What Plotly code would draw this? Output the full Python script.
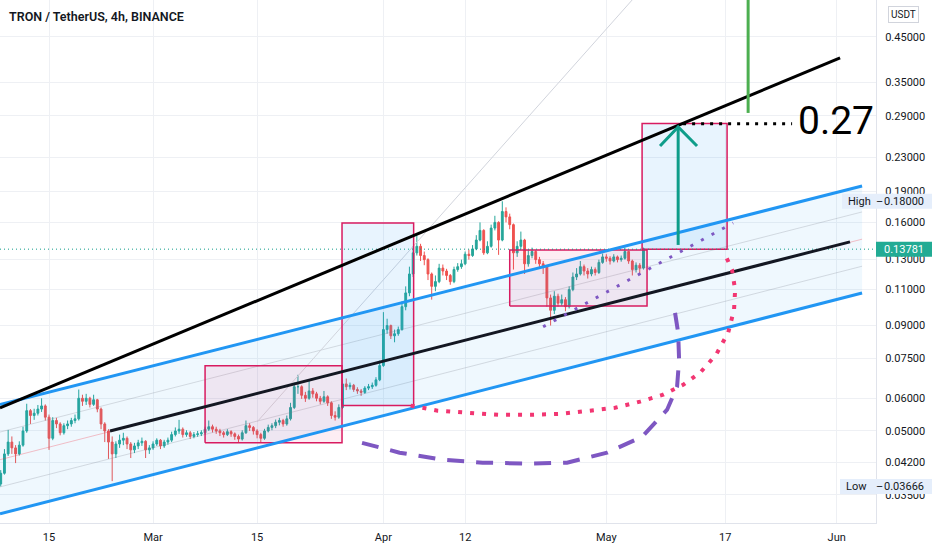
import numpy as np
import pandas as pd
import plotly.graph_objects as go

first_open = 0.0372
closes = [
    0.0395, 0.0440, 0.0470, 0.0455, 0.0440, 0.0462, 0.0500, 0.0560, 0.0545, 0.0552,
    0.0565, 0.0575, 0.0540, 0.0480, 0.0530, 0.0520, 0.0495, 0.0515, 0.0520, 0.0530,
    0.0535, 0.0600, 0.0590, 0.0600, 0.0580, 0.0595, 0.0565, 0.0520, 0.0500, 0.0470,
    0.0440, 0.0465, 0.0475, 0.0480, 0.0465, 0.0450, 0.0460, 0.0468, 0.0472, 0.0450,
    0.0455, 0.0465, 0.0475, 0.0460, 0.0470, 0.0475, 0.0490, 0.0500, 0.0505, 0.0490,
    0.0495, 0.0485, 0.0490, 0.0492, 0.0495, 0.0505, 0.0512, 0.0505, 0.0500, 0.0495,
    0.0490, 0.0498, 0.0492, 0.0485, 0.0478, 0.0495, 0.0515, 0.0510, 0.0500, 0.0490,
    0.0480, 0.0500, 0.0510, 0.0515, 0.0525, 0.0530, 0.0520, 0.0535, 0.0570, 0.0640,
    0.0640, 0.0610, 0.0600, 0.0625, 0.0615, 0.0600, 0.0590, 0.0605, 0.0585, 0.0545,
    0.0540, 0.0570, 0.0650, 0.0640, 0.0645, 0.0630, 0.0625, 0.0620, 0.0635, 0.0640,
    0.0645, 0.0665, 0.0720, 0.0880, 0.0900, 0.0850, 0.0860, 0.0880, 0.1000, 0.1080,
    0.1200, 0.1350, 0.1400, 0.1330, 0.1300, 0.1200, 0.1120, 0.1150, 0.1240, 0.1220,
    0.1190, 0.1150, 0.1230, 0.1250, 0.1270, 0.1340, 0.1330, 0.1380, 0.1450, 0.1530,
    0.1350, 0.1400, 0.1550, 0.1600, 0.1450, 0.1700, 0.1650, 0.1580, 0.1350, 0.1400,
    0.1450, 0.1270, 0.1330, 0.1360, 0.1300, 0.1270, 0.1250, 0.1050, 0.0980, 0.1060,
    0.1020, 0.1040, 0.1000, 0.1100, 0.1180, 0.1200, 0.1250, 0.1220, 0.1200, 0.1230,
    0.1210, 0.1280, 0.1320, 0.1310, 0.1290, 0.1320, 0.1300, 0.1310, 0.1360, 0.1290,
    0.1230, 0.1260, 0.1240, 0.13781,
]
highs = [
    0.0402, 0.0452, 0.0503, 0.0485, 0.0462, 0.0472, 0.0512, 0.0582, 0.0565, 0.0566,
    0.0578, 0.0600, 0.0580, 0.0548, 0.0540, 0.0538, 0.0525, 0.0522, 0.0530, 0.0538,
    0.0548, 0.0630, 0.0612, 0.0615, 0.0605, 0.0612, 0.0598, 0.0570, 0.0525, 0.0505,
    0.0485, 0.0472, 0.0490, 0.0495, 0.0485, 0.0470, 0.0468, 0.0476, 0.0482, 0.0475,
    0.0462, 0.0472, 0.0480, 0.0478, 0.0476, 0.0482, 0.0498, 0.0510, 0.0532, 0.0510,
    0.0502, 0.0500, 0.0497, 0.0500, 0.0502, 0.0512, 0.0530, 0.0518, 0.0512, 0.0506,
    0.0500, 0.0505, 0.0502, 0.0496, 0.0490, 0.0502, 0.0530, 0.0522, 0.0514, 0.0505,
    0.0495, 0.0506, 0.0518, 0.0522, 0.0533, 0.0538, 0.0535, 0.0545, 0.0585, 0.0655,
    0.0684, 0.0645, 0.0622, 0.0665, 0.0635, 0.0622, 0.0608, 0.0625, 0.0610, 0.0590,
    0.0558, 0.0580, 0.0665, 0.0670, 0.0655, 0.0650, 0.0638, 0.0632, 0.0642, 0.0650,
    0.0655, 0.0675, 0.0740, 0.0970, 0.0935, 0.0905, 0.0880, 0.0895, 0.1030, 0.1120,
    0.1250, 0.1400, 0.1490, 0.1420, 0.1360, 0.1310, 0.1210, 0.1190, 0.1270, 0.1265,
    0.1235, 0.1200, 0.1250, 0.1275, 0.1300, 0.1360, 0.1375, 0.1410, 0.1490, 0.1600,
    0.1540, 0.1440, 0.1580, 0.1660, 0.1610, 0.1800, 0.1740, 0.1680, 0.1590, 0.1440,
    0.1520, 0.1460, 0.1370, 0.1390, 0.1370, 0.1320, 0.1290, 0.1260, 0.1070, 0.1090,
    0.1075, 0.1070, 0.1055, 0.1120, 0.1210, 0.1240, 0.1290, 0.1265, 0.1240, 0.1250,
    0.1245, 0.1300, 0.1345, 0.1340, 0.1325, 0.1340, 0.1330, 0.1330, 0.1390, 0.1365,
    0.1300, 0.1280, 0.1275, 0.1390,
]
lows = [
    0.0367, 0.0392, 0.0435, 0.0440, 0.0418, 0.0436, 0.0458, 0.0495, 0.0520, 0.0532,
    0.0545, 0.0556, 0.0530, 0.0450, 0.0475, 0.0508, 0.0488, 0.0490, 0.0505, 0.0512,
    0.0522, 0.0530, 0.0575, 0.0578, 0.0570, 0.0575, 0.0555, 0.0505, 0.0470, 0.0428,
    0.0378, 0.0430, 0.0455, 0.0462, 0.0452, 0.0430, 0.0442, 0.0452, 0.0460, 0.0430,
    0.0440, 0.0450, 0.0460, 0.0452, 0.0455, 0.0463, 0.0470, 0.0485, 0.0492, 0.0482,
    0.0484, 0.0478, 0.0480, 0.0484, 0.0486, 0.0490, 0.0500, 0.0496, 0.0492, 0.0486,
    0.0482, 0.0486, 0.0484, 0.0476, 0.0470, 0.0474, 0.0492, 0.0500, 0.0490, 0.0480,
    0.0470, 0.0476, 0.0496, 0.0502, 0.0508, 0.0516, 0.0512, 0.0515, 0.0530, 0.0565,
    0.0615, 0.0598, 0.0588, 0.0595, 0.0602, 0.0590, 0.0580, 0.0585, 0.0575, 0.0535,
    0.0530, 0.0535, 0.0565, 0.0628, 0.0630, 0.0622, 0.0615, 0.0608, 0.0615, 0.0628,
    0.0632, 0.0640, 0.0660, 0.0715, 0.0860, 0.0835, 0.0820, 0.0850, 0.0875, 0.0980,
    0.1060, 0.1180, 0.1330, 0.1290, 0.1260, 0.1160, 0.1040, 0.1090, 0.1140, 0.1190,
    0.1160, 0.1130, 0.1140, 0.1215, 0.1235, 0.1260, 0.1300, 0.1320, 0.1370, 0.1440,
    0.1335, 0.1340, 0.1390, 0.1530, 0.1335, 0.1440, 0.1600, 0.1540, 0.1230, 0.1320,
    0.1380, 0.1200, 0.1250, 0.1310, 0.1270, 0.1240, 0.1200, 0.1000, 0.0900, 0.0960,
    0.1000, 0.1005, 0.0975, 0.0990, 0.1090, 0.1160, 0.1190, 0.1190, 0.1170, 0.1185,
    0.1190, 0.1200, 0.1270, 0.1285, 0.1265, 0.1280, 0.1280, 0.1285, 0.1300, 0.1270,
    0.1190, 0.1210, 0.1200, 0.1230,
]
times = pd.date_range("2021-02-08 12:00", periods=len(closes), freq="12h")
opens = [first_open] + closes[:-1]
last_price = 0.13781
high_price = 0.18
low_price = 0.03666

# axis ticks
price_ticks = [0.035, 0.042, 0.05, 0.06, 0.075, 0.09, 0.11, 0.13, 0.16, 0.19, 0.23, 0.29, 0.35, 0.45, 0.55]
date_ticks = ["2021-02-15", "2021-03-01", "2021-03-15", "2021-04-01", "2021-04-12",
              "2021-05-01", "2021-05-17", "2021-06-01"]
date_labels = ["15", "Mar", "15", "Apr", "12", "May", "17", "Jun"]
x_range = ["2021-02-08 09:40", "2021-06-06 07:00"]
y_range = [0.02993, 0.553]

# drawings, as (date, price) points
chan_x = ["2021-02-08 09:40", "2021-06-04 10:00"]
chan_top = [0.0579, 0.1960]
chan_bot = [0.0315, 0.1079]
chan_mid = [0.0426, 0.1457]
chan_q1 = [0.0497, 0.1696]
chan_q3 = [0.0366, 0.1253]
upper_x = ["2021-02-08 09:40", "2021-06-01 11:00"]
upper_y = [0.0569, 0.4003]
mid_x = ["2021-02-23 05:00", "2021-06-02 19:00"]
mid_y = [0.0500, 0.1435]
steep_x = ["2021-03-15 00:00", "2021-05-04 11:20"]
steep_y = [0.0526, 0.553]

box_x0 = ["2021-03-08 00:00", "2021-03-26 10:20", "2021-04-18 00:00", "2021-05-05 19:30"]
box_x1 = ["2021-03-26 10:20", "2021-04-05 01:40", "2021-05-06 11:30", "2021-05-17 06:00"]
box_lo = [0.0468, 0.0576, 0.1004, 0.1378]
box_hi = [0.0719, 0.1595, 0.1372, 0.2776]
box_fill = ["rgba(233,30,99,0.08)", "rgba(33,150,243,0.10)",
            "rgba(233,30,99,0.08)", "rgba(33,150,243,0.10)"]

purple_dot_x = ["2021-04-22 11:45", "2021-05-18 01:30"]
purple_dot_y = [0.0894, 0.1595]

red_curve_x = ["2021-04-04 16:00", "2021-04-08 07:00", "2021-04-12 16:00", "2021-04-16 17:00",
               "2021-04-20 18:00", "2021-04-24 19:00", "2021-04-28 19:30", "2021-05-02 04:00",
               "2021-05-05 13:00", "2021-05-08 15:30", "2021-05-11 08:00", "2021-05-13 15:00",
               "2021-05-15 18:30", "2021-05-17 09:30", "2021-05-18 04:30", "2021-05-18 08:00",
               "2021-05-17 22:00", "2021-05-17 00:00"]
red_curve_y = [0.0576, 0.0560, 0.0553, 0.0547, 0.0547, 0.0550, 0.0560, 0.0569, 0.0589,
               0.0612, 0.0647, 0.0692, 0.0765, 0.0865, 0.0983, 0.1098, 0.1228, 0.1335]

purple_curve_x = ["2021-03-29 03:00", "2021-04-03 04:20", "2021-04-08 23:20", "2021-04-14 08:30",
                  "2021-04-20 18:00", "2021-04-25 17:00", "2021-05-01 02:30", "2021-05-05 19:30",
                  "2021-05-09 04:20", "2021-05-10 12:30", "2021-05-10 19:00", "2021-05-10 16:00",
                  "2021-05-10 06:00"]
purple_curve_y = [0.0468, 0.0443, 0.0426, 0.0419, 0.0417, 0.0419, 0.0443, 0.0484,
                  0.0563, 0.0640, 0.0743, 0.0865, 0.0966]

target_x = ["2021-05-11 08:00", "2021-05-26 00:00"]
target_y = [0.2775, 0.2775]
arrow_x = ["2021-05-10 16:00", "2021-05-10 16:00"]
arrow_y = [0.1411, 0.2724]
head_x = ["2021-05-08 05:30", "2021-05-10 16:00", "2021-05-13 05:00"]
head_y = [0.2450, 0.2724, 0.2450]
green_x = ["2021-05-20 02:00", "2021-05-20 02:00"]
green_y = [0.2946, 0.70]

BLUE = "#2196f3"
PINK = "#d81b60"
PURPLE = "#7e57c2"
TEAL = "#0f9d8a"

fig = go.Figure()

def line(x, y, color, width, dash="solid"):
    fig.add_trace(go.Scatter(x=x, y=y, mode="lines", line=dict(color=color, width=width, dash=dash),
                             hoverinfo="skip", showlegend=False))

# channel fill
fig.add_trace(go.Scatter(x=[chan_x[0], chan_x[1], chan_x[1], chan_x[0], chan_x[0]],
                         y=[chan_top[0], chan_top[1], chan_bot[1], chan_bot[0], chan_top[0]],
                         mode="lines", fill="toself", fillcolor="rgba(33,150,243,0.07)",
                         line=dict(width=0), hoverinfo="skip", showlegend=False))
line(chan_x, chan_q1, "rgba(120,123,134,0.25)", 1)
line(chan_x, chan_mid, "rgba(242,54,69,0.3)", 1)
line(chan_x, chan_q3, "rgba(120,123,134,0.25)", 1)
line(steep_x, steep_y, "#d1d4dc", 1)

# boxes
for a, b, lo, hi, fc in zip(box_x0, box_x1, box_lo, box_hi, box_fill):
    fig.add_trace(go.Scatter(x=[a, b, b, a, a], y=[lo, lo, hi, hi, lo], mode="lines",
                             fill="toself", fillcolor=fc, line=dict(color=PINK, width=1.5),
                             hoverinfo="skip", showlegend=False))

# current price line
line(x_range, [last_price, last_price], TEAL, 1, "1px,3px")

fig.add_trace(go.Candlestick(
    x=times, open=opens, high=highs, low=lows, close=closes,
    increasing=dict(line=dict(color="#26a69a", width=1), fillcolor="#26a69a"),
    decreasing=dict(line=dict(color="#ef5350", width=1), fillcolor="#ef5350"),
    whiskerwidth=0, showlegend=False, hoverinfo="skip"))

line(chan_x, chan_top, BLUE, 3)
line(chan_x, chan_bot, BLUE, 3)
line(upper_x, upper_y, "#000000", 3)
line(mid_x, mid_y, "#131722", 3)
line(purple_dot_x, purple_dot_y, PURPLE, 3, "3px,9px")
line(red_curve_x, red_curve_y, "#f23672", 4, "4px,8px")
line(purple_curve_x, purple_curve_y, PURPLE, 4, "17px,12px")
line(target_x, target_y, "#000000", 3, "3px,6px")
line(arrow_x, arrow_y, TEAL, 3)
line(head_x, head_y, TEAL, 3)
line(green_x, green_y, "#4caf50", 3)

annotations = [
    dict(text="TRON / TetherUS, 4h, BINANCE", xref="paper", yref="paper", x=7 / 876, y=0.9694,
         xanchor="left", yanchor="middle", showarrow=False,
         font=dict(size=12.5, color="#131722", family="Roboto", weight=600)),
    dict(text="0.27", xref="x", yref="y", x="2021-05-31 22:00", y=np.log10(0.2817),
         xanchor="center", yanchor="middle", showarrow=False,
         font=dict(size=39, color="#000000", family="Roboto")),
    dict(text="USDT", xref="paper", yref="paper", x=903 / 876, y=(523 - 15) / 523,
         xanchor="center", yanchor="middle", showarrow=False, bgcolor="white",
         bordercolor="#d1d4dc", borderwidth=1, borderpad=2,
         font=dict(size=10, color="#131722", family="Roboto")),
]

shapes = []
# high / low / last price labels
for price, name, bg, fg, x_start in [(high_price, "High", "#e5eefb", "#131722", 842),
                                     (low_price, "Low", "#e5eefb", "#131722", 840),
                                     (last_price, "", "#22ab94", "#ffffff", 876)]:
    yc = 37 + 179.3 * np.log(0.45 / price)
    shapes.append(dict(type="rect", xref="paper", yref="paper", x0=x_start / 876, x1=932 / 876,
                       y0=(523 - yc - 7.5) / 523, y1=(523 - yc + 7.5) / 523,
                       fillcolor=bg, line=dict(width=0), layer="above"))
    annotations.append(dict(text=f"{price:.5f}", xref="paper", yref="y", x=882 / 876,
                            y=np.log10(price), xanchor="left", yanchor="middle", showarrow=False,
                            font=dict(size=11, color=fg, family="Roboto")))
    if name:
        annotations.append(dict(text=name, xref="paper", yref="y", x=(x_start + 4) / 876,
                                y=np.log10(price), xanchor="left", yanchor="middle",
                                showarrow=False, font=dict(size=11, color="#131722", family="Roboto")))
        annotations.append(dict(text="–", xref="paper", yref="y", x=874 / 876,
                                y=np.log10(price), xanchor="left", yanchor="middle",
                                showarrow=False, font=dict(size=11, color="#131722", family="Roboto")))

fig.update_layout(
    width=932, height=550,
    margin=dict(l=0, r=56, t=0, b=27),
    plot_bgcolor="white", paper_bgcolor="white",
    showlegend=False,
    annotations=annotations, shapes=shapes,
    xaxis=dict(type="date", range=x_range, tickvals=date_ticks, ticktext=date_labels,
               showgrid=True, gridcolor="#eef0f4", showline=True, linecolor="#e0e3eb",
               ticks="", ticklabelstandoff=4, rangeslider=dict(visible=False),
               tickfont=dict(size=11, color="#131722", family="Roboto")),
    yaxis=dict(type="log", side="right", range=[np.log10(y_range[0]), np.log10(y_range[1])],
               tickvals=price_ticks, ticktext=[f"{v:.5f}" for v in price_ticks],
               showgrid=True, gridcolor="#eef0f4", showline=True, linecolor="#e0e3eb",
               zeroline=False, ticks="", ticklabelstandoff=6,
               tickfont=dict(size=11, color="#131722", family="Roboto")),
)

# page body has an 8px default margin; drop it so the chart fills the window
fig.write_html("out.html", config={"displayModeBar": False},
               post_script="document.body.style.margin='0';")
